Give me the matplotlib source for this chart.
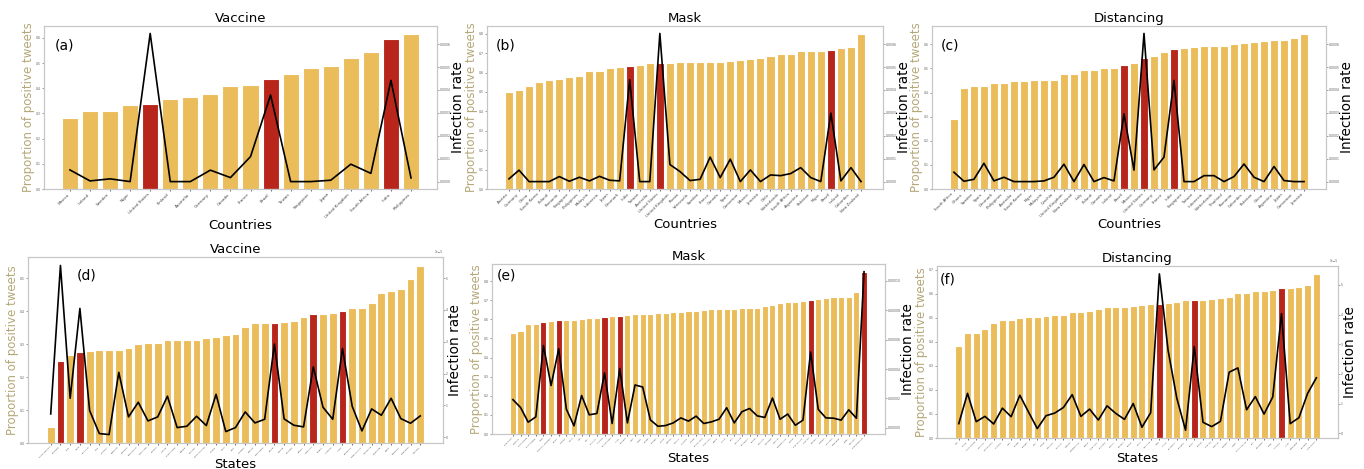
import numpy as np
import matplotlib.pyplot as plt

# ---- panel (a): vaccine, countries
a_names = ["Mexico", "Ireland", "Sweden", "Niger", "United States", "Finland", "Australia",
           "Germany", "Canada", "France", "Brazil", "Taiwan", "Singapore", "Japan",
           "United Kingdom", "South Africa", "India", "Philippines"]
a_pos = [0.281, 0.309, 0.309, 0.335, 0.336, 0.356, 0.364, 0.376, 0.407, 0.413, 0.436,
         0.457, 0.479, 0.490, 0.519, 0.543, 0.596, 0.616]
a_inf = [5.1e-5, 0.3e-5, 1.2e-5, 0.0, 64.7e-5, 0.0, 0.0, 5.0e-5, 1.75e-5, 10.9e-5, 37.8e-5,
         0.0, 0.0, 0.6e-5, 7.6e-5, 3.6e-5, 44.2e-5, 1.6e-5]
a_red = ["United States", "Brazil", "India"]

# ---- panel (b): mask, countries
b_names = ["Austria", "Germany", "China", "South Korea", "Poland", "Romania", "Singapore",
           "Philippines", "Malaysia", "Indonesia", "Japan", "Denmark", "India", "Taiwan",
           "Australia", "United States", "United Kingdom", "Russia", "Venezuela", "Sweden",
           "France", "Canada", "Spain", "Cameroon", "Mexico", "Jamaica", "Chile",
           "Netherlands", "South Africa", "Argentina", "Pakistan", "Niger", "Brazil",
           "Ireland", "Colombia", "New Zealand"]
b_pos = [0.500, 0.510, 0.529, 0.550, 0.560, 0.567, 0.576, 0.583, 0.607, 0.609, 0.624,
         0.629, 0.633, 0.641, 0.647, 0.647, 0.652, 0.653, 0.653, 0.655, 0.657, 0.657,
         0.659, 0.667, 0.672, 0.676, 0.688, 0.697, 0.698, 0.709, 0.709, 0.710, 0.716,
         0.728, 0.733, 0.800]
b_inf = [1.2e-5, 5.0e-5, 0.0, 0.0, 0.0, 2.2e-5, 0.15e-5, 1.9e-5, 0.3e-5, 2.3e-5, 0.6e-5,
         0.3e-5, 44.5e-5, 0.0, 0.0, 64.7e-5, 7.45e-5, 4.4e-5, 0.45e-5, 1.0e-5, 10.7e-5,
         1.75e-5, 9.8e-5, 0.0, 5.1e-5, 0.0, 2.9e-5, 2.6e-5, 3.5e-5, 6.1e-5, 1.75e-5, 0.0,
         29.9e-5, 0.3e-5, 6.1e-5, 0.0]
b_red = ["India", "United States", "Brazil"]

# ---- panel (c): distancing, countries
c_names = ["South Africa", "Ghana", "Sweden", "Spain", "Denmark", "Philippines", "Australia",
           "South Korea", "Niger", "Malaysia", "Czechia", "United Kingdom", "New Zealand",
           "Italy", "Poland", "Canada", "Ireland", "Brazil", "Mexico", "United States",
           "Germany", "France", "India", "Singapore", "Taiwan", "Indonesia", "Netherlands",
           "Thailand", "Romania", "Colombia", "Pakistan", "China", "Argentina", "Japan",
           "Cameroon", "Jamaica"]
c_pos = [0.292, 0.418, 0.428, 0.428, 0.438, 0.439, 0.449, 0.450, 0.452, 0.452, 0.454,
         0.476, 0.479, 0.494, 0.494, 0.500, 0.501, 0.514, 0.524, 0.543, 0.550, 0.568,
         0.580, 0.583, 0.591, 0.594, 0.594, 0.594, 0.602, 0.604, 0.608, 0.616, 0.619,
         0.620, 0.626, 0.644]
c_inf = [4.1e-5, 0.15e-5, 1.0e-5, 8.0e-5, 0.3e-5, 1.9e-5, 0.0, 0.0, 0.0, 0.3e-5, 1.9e-5,
         7.6e-5, 0.0, 7.45e-5, 0.0, 1.75e-5, 0.3e-5, 29.6e-5, 5.0e-5, 64.7e-5, 5.1e-5,
         10.7e-5, 44.2e-5, 0.0, 0.0, 2.6e-5, 2.6e-5, 0.0, 2.2e-5, 7.7e-5, 1.9e-5, 0.0,
         6.6e-5, 0.45e-5, 0.0, 0.0]
c_red = ["Brazil", "United States", "India"]

# ---- panel (d): vaccine, states
d_names = ["South Carolina", "California", "Utah", "Texas", "Louisiana", "Iowa", "Kentucky",
           "Nebraska", "Maryland", "Connecticut", "Mississippi", "Missouri", "Arizona",
           "Pennsylvania", "Georgia", "Colorado", "North Carolina", "Indiana", "Idaho",
           "Ohio", "Alabama", "Virginia", "Washington", "Florida", "Nevada", "Michigan",
           "Kansas", "New York", "Oregon", "Arkansas", "Illinois", "Oklahoma", "New York City",
           "Tennessee", "Minnesota", "Hawaii", "Wisconsin", "New Jersey", "Montana"]
d_pos = [0.048, 0.249, 0.266, 0.275, 0.280, 0.284, 0.284, 0.284, 0.288, 0.300, 0.305,
         0.305, 0.312, 0.312, 0.312, 0.314, 0.318, 0.321, 0.328, 0.330, 0.352, 0.364,
         0.364, 0.364, 0.369, 0.372, 0.384, 0.391, 0.393, 0.396, 0.402, 0.409, 0.410,
         0.424, 0.457, 0.461, 0.468, 0.499, 0.538]
d_inf = [0.733e-5, 5.40e-5, 1.225e-5, 4.05e-5, 0.838e-5, 0.115e-5, 0.084e-5, 2.04e-5,
         0.639e-5, 1.10e-5, 0.513e-5, 0.639e-5, 1.29e-5, 0.304e-5, 0.346e-5, 0.660e-5,
         0.366e-5, 1.35e-5, 0.178e-5, 0.304e-5, 0.796e-5, 0.450e-5, 0.565e-5, 2.93e-5,
         0.576e-5, 0.377e-5, 0.325e-5, 2.21e-5, 0.942e-5, 0.565e-5, 2.79e-5, 0.974e-5,
         0.199e-5, 0.890e-5, 0.691e-5, 1.225e-5, 0.586e-5, 0.440e-5, 0.670e-5]
d_red = ["California", "Texas", "Florida", "New York", "Illinois"]

# ---- panel (e): mask, states
e_names = ["New Mexico", "Wyoming", "North Dakota", "South Dakota", "Texas", "District of Columbia",
           "Florida", "Vermont", "Maine", "Iowa", "Utah", "Kentucky", "California", "Rhode Island",
           "Illinois", "Delaware", "Idaho", "Alaska", "Nevada", "Colorado", "Kansas", "Alabama",
           "Missouri", "Louisiana", "Indiana", "Pennsylvania", "New Jersey", "Oregon", "Arizona",
           "Ohio", "Tennessee", "Connecticut", "Georgia", "Maryland", "Minnesota", "Arkansas",
           "Massachusetts", "Virginia", "New York City", "New York", "Michigan", "Montana",
           "Oklahoma", "Washington", "Hawaii", "Wisconsin", "New Hampshire"]
e_pos = [0.526, 0.537, 0.577, 0.577, 0.586, 0.589, 0.595, 0.596, 0.598, 0.600, 0.609,
         0.609, 0.612, 0.618, 0.618, 0.621, 0.626, 0.626, 0.630, 0.632, 0.633, 0.637,
         0.637, 0.642, 0.644, 0.651, 0.654, 0.654, 0.654, 0.656, 0.658, 0.660, 0.661,
         0.670, 0.674, 0.686, 0.691, 0.693, 0.696, 0.702, 0.704, 0.711, 0.716, 0.718,
         0.718, 0.742, 0.847]
e_inf = [1.92e-5, 1.39e-5, 0.39e-5, 0.75e-5, 5.60e-5, 2.88e-5, 5.38e-5, 1.28e-5, 0.14e-5,
         2.20e-5, 0.89e-5, 0.98e-5, 3.74e-5, 0.30e-5, 4.04e-5, 0.34e-5, 2.92e-5, 2.78e-5,
         0.55e-5, 0.11e-5, 0.16e-5, 0.34e-5, 0.68e-5, 0.46e-5, 0.80e-5, 0.30e-5, 0.41e-5,
         0.59e-5, 1.37e-5, 0.34e-5, 1.10e-5, 1.32e-5, 0.82e-5, 0.71e-5, 2.03e-5, 0.59e-5,
         0.94e-5, 0.18e-5, 0.53e-5, 5.16e-5, 1.26e-5, 0.68e-5, 0.66e-5, 0.53e-5, 1.23e-5,
         0.66e-5, 10.62e-5]
e_red = ["Texas", "Florida", "California", "Illinois", "New York", "New Hampshire"]

# ---- panel (f): distancing, states
f_names = ["Iowa", "Kansas", "North Dakota", "Maryland", "Pennsylvania", "Louisiana", "Idaho",
           "Nevada", "Colorado", "Utah", "Indiana", "Wisconsin", "Kentucky", "Alabama",
           "Massachusetts", "Oregon", "New Jersey", "Oklahoma", "Missouri", "Michigan",
           "Virginia", "Maine", "Tennessee", "Texas", "Arizona", "Connecticut", "Delaware",
           "Florida", "Georgia", "New York", "Arkansas", "Montana", "Alaska", "South Carolina",
           "Ohio", "Minnesota", "Hawaii", "California", "Illinois", "Washington", "Nebraska",
           "New Mexico"]
f_pos = [0.381, 0.436, 0.437, 0.453, 0.479, 0.490, 0.492, 0.499, 0.503, 0.505, 0.506,
         0.512, 0.513, 0.524, 0.525, 0.528, 0.538, 0.543, 0.545, 0.546, 0.549, 0.553,
         0.556, 0.558, 0.561, 0.567, 0.572, 0.575, 0.575, 0.580, 0.583, 0.586, 0.602,
         0.605, 0.613, 0.613, 0.615, 0.622, 0.624, 0.627, 0.635, 0.681]
f_inf = [0.322e-5, 1.344e-5, 0.389e-5, 0.567e-5, 0.311e-5, 0.844e-5, 0.556e-5, 1.278e-5,
         0.711e-5, 0.156e-5, 0.589e-5, 0.678e-5, 0.867e-5, 1.30e-5, 0.567e-5, 0.811e-5,
         0.444e-5, 0.922e-5, 0.667e-5, 0.467e-5, 1.00e-5, 0.20e-5, 0.689e-5, 5.37e-5,
         2.79e-5, 1.178e-5, 0.10e-5, 2.92e-5, 0.367e-5, 0.222e-5, 0.40e-5, 2.056e-5,
         2.20e-5, 0.789e-5, 1.233e-5, 0.644e-5, 1.222e-5, 4.03e-5, 0.322e-5, 0.522e-5,
         1.344e-5, 1.867e-5]
f_red = ["Texas", "Florida", "California"]

YELLOW = "#ebbc5a"
RED = "#b8261b"
TAN = "#b5a778"
SPINE = "#c6c6c6"

fig = plt.figure(figsize=(13.64, 4.69), dpi=100)

panels = [
    ([0.0323, 0.597, 0.288, 0.3475], "Vaccine", "(a)", "Countries", a_names, a_pos, a_inf, a_red, (0.027, 0.88), 3.0),
    ([0.357, 0.597, 0.2904, 0.3475], "Mask", "(b)", "Countries", b_names, b_pos, b_inf, b_red, (0.023, 0.88), 2.8),
    ([0.6833, 0.597, 0.2888, 0.3475], "Distancing", "(c)", "Countries", c_names, c_pos, c_inf, c_red, (0.023, 0.88), 2.8),
    ([0.0205, 0.0554, 0.3043, 0.3966], "Vaccine", "(d)", "States", d_names, d_pos, d_inf, d_red, (0.118, 0.90), 1.5),
    ([0.3607, 0.0746, 0.2881, 0.3625], "Mask", "(e)", "States", e_names, e_pos, e_inf, e_red, (0.013, 0.93), 1.4),
    ([0.687, 0.066, 0.294, 0.3667], "Distancing", "(f)", "States", f_names, f_pos, f_inf, f_red, (0.007, 0.92), 1.4),
]

for rect, title, tag, xlab, names, pos, inf, red, tagxy, xfs in panels:
    ax = fig.add_axes(rect)
    x = np.arange(len(names))
    colors = [RED if n in red else YELLOW for n in names]
    ax.bar(x, pos, color=colors, edgecolor="white", linewidth=0.8, width=0.8)
    ax.set_xticks(x)
    ax.set_xticklabels(names, rotation=45, ha="right", fontsize=xfs, color="#444444")
    ax.tick_params(axis="y", labelsize=2.2, length=1.5, width=0.4, pad=1, colors="#555555")
    ax.tick_params(axis="x", length=1.5, width=0.4, pad=1)
    ax.set_title(title, fontsize=9.5, pad=3)
    ax.set_xlabel(xlab, fontsize=9.5, labelpad=0)
    ax.set_ylabel("Proportion of positive tweets", fontsize=8.5, color=TAN, labelpad=0.5)
    ax.text(tagxy[0], tagxy[1], tag, transform=ax.transAxes, fontsize=10, va="center")

    ax2 = ax.twinx()
    ax2.plot(x, inf, color="black", linewidth=1.2)
    ax2.tick_params(axis="y", labelsize=2.2, length=1.5, width=0.4, pad=0.5, colors="#555555")
    ax2.yaxis.get_offset_text().set_fontsize(2.2)
    ax2.set_ylabel("Infection rate", fontsize=9.8, labelpad=0)
    for a in (ax, ax2):
        for s in a.spines.values():
            s.set_color(SPINE)
            s.set_linewidth(0.8)

fig.savefig("out.png", dpi=100)
